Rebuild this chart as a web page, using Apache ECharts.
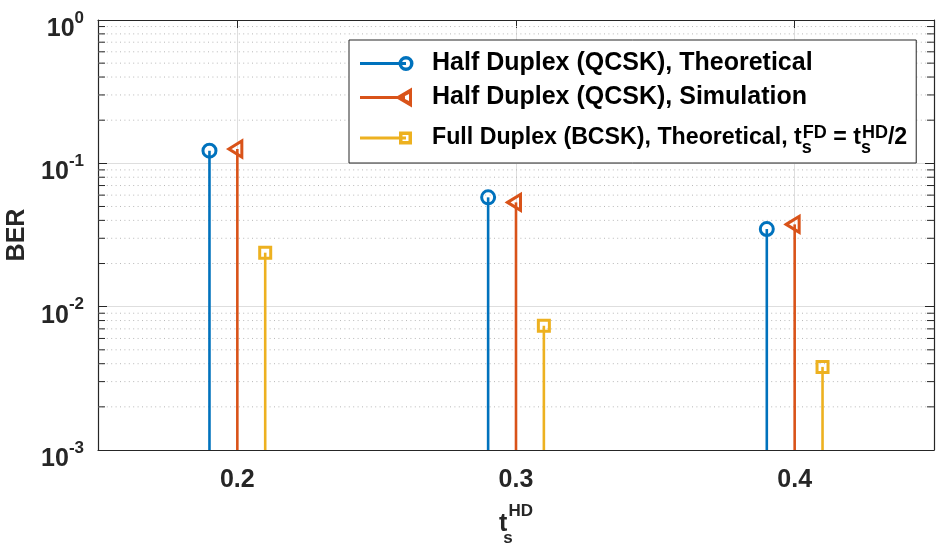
<!DOCTYPE html>
<html><head><meta charset="utf-8">
<script src="https://cdn.jsdelivr.net/npm/echarts@6/dist/echarts.min.js"></script>
<style>html,body{margin:0;padding:0;background:#fff}#c{width:938px;height:548px}</style>
</head><body><div id="c"></div>
<script>
// ---- data ----
const xTickValues = [0.2, 0.3, 0.4];
const xHalfTheory = [0.19, 0.29, 0.39];
const berHalfTheory = [0.1225, 0.0579, 0.0348];
const xHalfSim = [0.2, 0.3, 0.4];
const berHalfSim = [0.126, 0.0534, 0.0375];
const xFullTheory = [0.21, 0.31, 0.41];
const berFullTheory = [0.0238, 0.00736, 0.0038];
const seriesNames = ['Half Duplex (QCSK), Theoretical', 'Half Duplex (QCSK), Simulation', 'Full Duplex (BCSK), Theoretical'];
const minorMultipliers = [2, 3, 4, 5, 6, 7, 8, 9];
const minorDecades = [0.001, 0.01, 0.1];
const xRange = [0.15, 0.45];
const yRange = [0.001, 1];

const FONT = '"Liberation Sans", Arial, Helvetica, sans-serif';
const TXT = '#262626';
const C1 = '#0072BD', C2 = '#D95319', C3 = '#EDB120';

const minorValues = [];
minorDecades.forEach(d => minorMultipliers.forEach(m => minorValues.push(+(m * d).toPrecision(3))));

function zip(xs, ys) { return xs.map((x, i) => [x, ys[i]]); }

function stemRenderer(kind, color) {
  return function (params, api) {
    const x = api.value(0), v = api.value(1);
    const p = api.coord([x, v]);
    const b = api.coord([x, yRange[0]]);
    const kids = [{ type: 'line', shape: { x1: p[0], y1: b[1], x2: p[0], y2: p[1] }, style: { stroke: color, lineWidth: 2.6 } }];
    if (kind === 'circle') {
      kids.push({ type: 'circle', shape: { cx: p[0], cy: p[1], r: 6.5 }, style: { fill: 'none', stroke: color, lineWidth: 3 } });
    } else if (kind === 'triangle') {
      kids.push({ type: 'polygon', shape: { points: [[p[0] - 8.5, p[1]], [p[0] + 4.5, p[1] - 8], [p[0] + 4.5, p[1] + 8]] }, style: { fill: 'none', stroke: color, lineWidth: 3 } });
    } else {
      kids.push({ type: 'rect', shape: { x: p[0] - 5.5, y: p[1] - 5.5, width: 11, height: 11 }, style: { fill: 'none', stroke: color, lineWidth: 3 } });
    }
    return { type: 'group', children: kids };
  };
}

function minorRenderer(params, api) {
  const v = api.value(1);
  const y = api.coord([xRange[0], v])[1];
  const cs = params.coordSys;
  const x0 = cs.x, x1 = cs.x + cs.width;
  return {
    type: 'group', children: [
      { type: 'line', shape: { x1: x0, y1: y, x2: x1, y2: y }, style: { stroke: '#b8b8b8', lineWidth: 1, lineDash: [1, 3.4] } },
      { type: 'line', shape: { x1: x0, y1: y, x2: x0 + 7, y2: y }, style: { stroke: TXT, lineWidth: 1 } },
      { type: 'line', shape: { x1: x1 - 7, y1: y, x2: x1, y2: y }, style: { stroke: TXT, lineWidth: 1 } }
    ]
  };
}

// legend icons drawn in a 56 x 20 box (corner moves fix the bounding box)
const icons = [
  'path://M0,0M56,20M0,8.5L46,8.5L46,11.5L0,11.5Z M53.5,10A7.5,7.5 0 1,1 38.5,10A7.5,7.5 0 1,1 53.5,10Z M50,10A4,4 0 1,0 42,10A4,4 0 1,0 50,10Z',
  'path://M0,0M56,20M0,8.5L45,8.5L45,11.5L0,11.5Z M35,10L52,0L52,20Z M42,10L49,13.6L49,6.4Z',
  'path://M0,0M56,20M0,8.5L46,8.5L46,11.5L0,11.5Z M39,3.5L52,3.5L52,16.5L39,16.5Z M42.5,7L42.5,13L48.5,13L48.5,7Z'
];

const base = { fontFamily: FONT, fontWeight: 'bold', color: '#000' };

const chart = echarts.init(document.getElementById('c'), null, { renderer: 'canvas' });
chart.setOption({
  animation: false,
  backgroundColor: '#fff',
  grid: { left: 98, right: 4, top: 20, bottom: 98, containLabel: false, outerBoundsMode: 'none' },
  xAxis: [{
    type: 'value', min: xRange[0], max: xRange[1], position: 'bottom',
    axisLine: { show: true, lineStyle: { color: TXT, width: 1.2 } },
    axisTick: { show: true, inside: true, length: 8, lineStyle: { color: TXT }, customValues: xTickValues },
    axisLabel: { show: true, customValues: xTickValues, margin: 18, formatter: v => v.toFixed(1), fontFamily: FONT, fontWeight: 'bold', fontSize: 25, color: TXT },
    splitLine: { show: true, lineStyle: { color: '#dedede', width: 1 } },
    name: '{t|t}{s|s}{h|HD}', nameLocation: 'middle', nameGap: 51,
    nameTextStyle: {
      rich: {
        t: { fontFamily: FONT, fontWeight: 'bold', fontSize: 25, color: TXT, lineHeight: 46, verticalAlign: 'middle' },
        s: { fontFamily: FONT, fontWeight: 'bold', fontSize: 17, color: TXT, lineHeight: 17, width: 1, verticalAlign: 'bottom' },
        h: { fontFamily: FONT, fontWeight: 'bold', fontSize: 17, color: TXT, lineHeight: 17, verticalAlign: 'top', padding: [2, 0, 0, 0] }
      }
    }
  }, {
    type: 'value', min: xRange[0], max: xRange[1], position: 'top',
    axisLine: { show: true, lineStyle: { color: TXT, width: 1.2 } },
    axisTick: { show: true, inside: true, length: 8, lineStyle: { color: TXT }, customValues: xTickValues },
    axisLabel: { show: false }, splitLine: { show: false }
  }],
  yAxis: [{
    type: 'log', logBase: 10, min: yRange[0], max: yRange[1], splitNumber: 3, position: 'left',
    axisLine: { show: true, lineStyle: { color: TXT, width: 1.2 } },
    axisTick: { show: true, inside: true, length: 9, lineStyle: { color: TXT } },
    axisLabel: {
      margin: 14,
      formatter: v => '{b|10}{e|' + Math.round(Math.log10(v)) + '}',
      rich: {
        b: { fontFamily: FONT, fontWeight: 'bold', fontSize: 25, color: TXT, lineHeight: 25, verticalAlign: 'top', padding: [9, 0, 0, 0] },
        e: { fontFamily: FONT, fontWeight: 'bold', fontSize: 17, color: TXT, lineHeight: 17, verticalAlign: 'top', padding: [2, 0, 0, 0] }
      }
    },
    splitLine: { show: true, lineStyle: { color: '#dedede', width: 1 } },
    name: 'BER', nameLocation: 'middle', nameGap: 68,
    nameTextStyle: { fontFamily: FONT, fontWeight: 'bold', fontSize: 25, color: TXT }
  }, {
    type: 'log', logBase: 10, min: yRange[0], max: yRange[1], splitNumber: 3, position: 'right',
    axisLine: { show: true, lineStyle: { color: TXT, width: 1.2 } },
    axisTick: { show: true, inside: true, length: 9, lineStyle: { color: TXT } },
    axisLabel: { show: false }, splitLine: { show: false }
  }],
  legend: {
    orient: 'vertical', left: 349, top: 40,
    data: seriesNames.map((n, i) => ({ name: n, icon: icons[i] })),
    itemWidth: 56, itemHeight: 20, itemGap: 9,
    padding: [11, 9, 6, 11],
    backgroundColor: '#fff', borderColor: '#262626', borderWidth: 1, borderRadius: 0,
    selectedMode: false,
    formatter: function (name) {
      if (name === seriesNames[2]) {
        return '{m|' + name + ', t}{sb|s}{sp|FD}{m| = t}{sb|s}{sp|HD}{m|/2}';
      }
      return '{n|' + name + '}';
    },
    textStyle: {
      fontFamily: FONT, fontWeight: 'bold', fontSize: 25, color: '#000', padding: [0, 0, 0, 11],
      rich: {
        n: Object.assign({ fontSize: 25, lineHeight: 26 }, base),
        m: Object.assign({ fontSize: 23.2, lineHeight: 38 }, base),
        sb: Object.assign({ fontSize: 18, lineHeight: 18, width: 1, verticalAlign: 'bottom' }, base),
        sp: Object.assign({ fontSize: 18, lineHeight: 18, verticalAlign: 'top', padding: [5, 0, 0, 0] }, base)
      }
    }
  },
  series: [
    { name: 'minorGrid', type: 'custom', xAxisIndex: 0, yAxisIndex: 0, silent: true, z: 1,
      data: minorValues.map(v => [xRange[0], v]), encode: { x: 0, y: 1 }, renderItem: minorRenderer },
    { name: seriesNames[0], type: 'custom', xAxisIndex: 0, yAxisIndex: 0, z: 3, itemStyle: { color: C1 },
      data: zip(xHalfTheory, berHalfTheory), encode: { x: 0, y: 1 }, renderItem: stemRenderer('circle', C1) },
    { name: seriesNames[1], type: 'custom', xAxisIndex: 0, yAxisIndex: 0, z: 3, itemStyle: { color: C2 },
      data: zip(xHalfSim, berHalfSim), encode: { x: 0, y: 1 }, renderItem: stemRenderer('triangle', C2) },
    { name: seriesNames[2], type: 'custom', xAxisIndex: 0, yAxisIndex: 0, z: 3, itemStyle: { color: C3 },
      data: zip(xFullTheory, berFullTheory), encode: { x: 0, y: 1 }, renderItem: stemRenderer('square', C3) }
  ]
});
</script>
</body></html>
